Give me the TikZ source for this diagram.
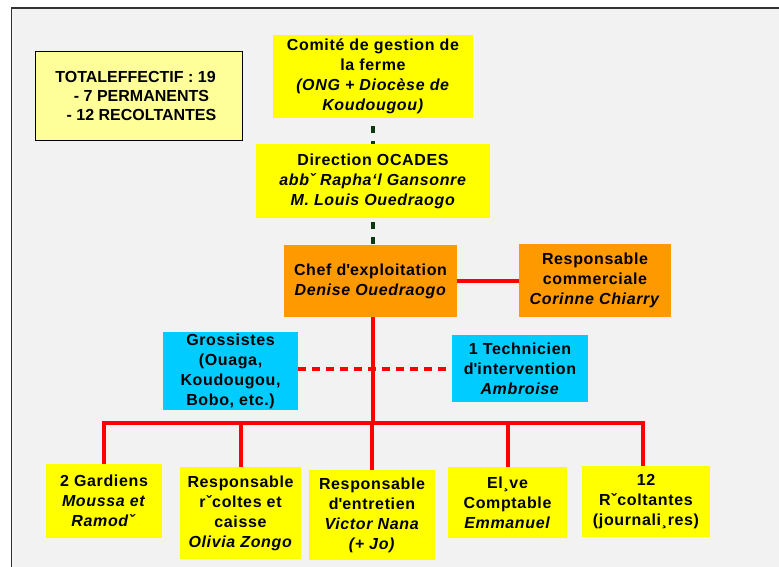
\documentclass[tikz,border=0pt]{standalone}
\usepackage{fontspec}
\setmainfont{Liberation Sans}[LetterSpace=4]
\newfontfamily\plainsans{Liberation Sans}
\definecolor{boxyellow}{HTML}{FFFF00}
\definecolor{paleyellow}{HTML}{FFFF99}
\definecolor{boxorange}{HTML}{FF9900}
\definecolor{boxcyan}{HTML}{00CCFF}
\definecolor{linered}{HTML}{FF0000}
\definecolor{linegreen}{HTML}{0B3A12}
\definecolor{slidegray}{HTML}{F2F2F2}
\tikzset{
  orgbox/.style={fill=#1, align=center, inner sep=0pt,
    font=\bfseries\fontsize{16}{20}\selectfont},
  redline/.style={draw=linered, line width=4pt},
  reddash/.style={redline, dash pattern=on 8pt off 6pt},
  greendash/.style={draw=linegreen, line width=4pt, dash pattern=on 7pt off 8pt}
}

\begin{document}
\begin{tikzpicture}[x=1pt,y=-1pt]
  \useasboundingbox (0,0) rectangle (779,567);
  \fill[white] (0,0) rectangle (779,567);
  \fill[slidegray] (11.5,8) rectangle (779,567);
  \draw[black!80,line width=1.2pt] (11.5,567) -- (11.5,8) -- (779,8);

  \node[orgbox=paleyellow, draw=black, line width=0.8pt, minimum width=207pt, minimum height=89pt,
    font=\plainsans\bfseries\fontsize{16}{19}\selectfont] (total) at (138.5,95.5)
    {TOTALEFFECTIF : 19\hspace*{6pt}\\ \hspace*{6pt}- 7 PERMANENTS\\ \hspace*{6pt}- 12 RECOLTANTES};

  \node[orgbox=boxyellow, minimum width=200pt, minimum height=83pt] (comite) at (373,76.5)
    {Comité de gestion de\\ la ferme\\ \textit{(ONG + Diocèse de}\\ \textit{Koudougou)}};
  \node[orgbox=boxyellow, minimum width=234pt, minimum height=74pt] (direction) at (373,181)
    {Direction OCADES\\ \textit{abbˇ Rapha‘l Gansonre}\\ \textit{M. Louis Ouedraogo}};
  \node[orgbox=boxorange, minimum width=173pt, minimum height=72pt] (chef) at (370.5,281)
    {Chef d\textquotesingle exploitation\\ \textit{Denise Ouedraogo}};
  \node[orgbox=boxorange, minimum width=152pt, minimum height=73pt] (respcom) at (595,280.5)
    {Responsable\\ commerciale\\ \textit{Corinne Chiarry}};

  \node[orgbox=boxcyan, minimum width=135pt, minimum height=78pt] (grossistes) at (230.5,371)
    {Grossistes\\ (Ouaga,\\ Koudougou,\\ Bobo, etc.)};
  \node[orgbox=boxcyan, minimum width=136pt, minimum height=67pt] (technicien) at (520,368.5)
    {1 Technicien\\ d\textquotesingle intervention\\ \textit{Ambroise}};

  \node[orgbox=boxyellow, minimum width=116pt, minimum height=74pt] (gardiens) at (104,501)
    {2 Gardiens\\ \textit{Moussa et}\\ \textit{Ramodˇ}};
  \node[orgbox=boxyellow, minimum width=121pt, minimum height=92pt] (resprec) at (240.5,513)
    {Responsable\\ rˇcoltes et\\ caisse\\ \textit{Olivia Zongo}};
  \node[orgbox=boxyellow, minimum width=126pt, minimum height=90pt] (respent) at (372,515)
    {Responsable\\ d\textquotesingle entretien\\ \textit{Victor Nana}\\ \textit{(+ Jo)}};
  \node[orgbox=boxyellow, minimum width=119pt, minimum height=71pt] (eleve) at (507.5,502.5)
    {El¸ve\\ Comptable\\ \textit{Emmanuel}};
  \node[orgbox=boxyellow, minimum width=128pt, minimum height=71pt] (recolt) at (646,501.5)
    {12\\ Rˇcoltantes\\ (journali¸res)};

  \coordinate (bus) at (373,423);

  \draw[greendash, dash phase=7pt] (comite.south) -- (direction.north);
  \draw[greendash, dash phase=11pt] (direction.south) -- (direction.south |- chef.north);
  \draw[redline] (chef.east) -- (chef.east -| respcom.west);
  \draw[redline] (chef.south -| bus) -- (bus);
  \draw[reddash] (technicien.west -| grossistes.east) -- (technicien.west);
  \foreach \staff in {gardiens,resprec,respent,eleve}
    \draw[redline] (bus) -| (\staff.north);
  \draw[redline] (bus) -| ([xshift=-3pt]recolt.north);
\end{tikzpicture}
\end{document}
